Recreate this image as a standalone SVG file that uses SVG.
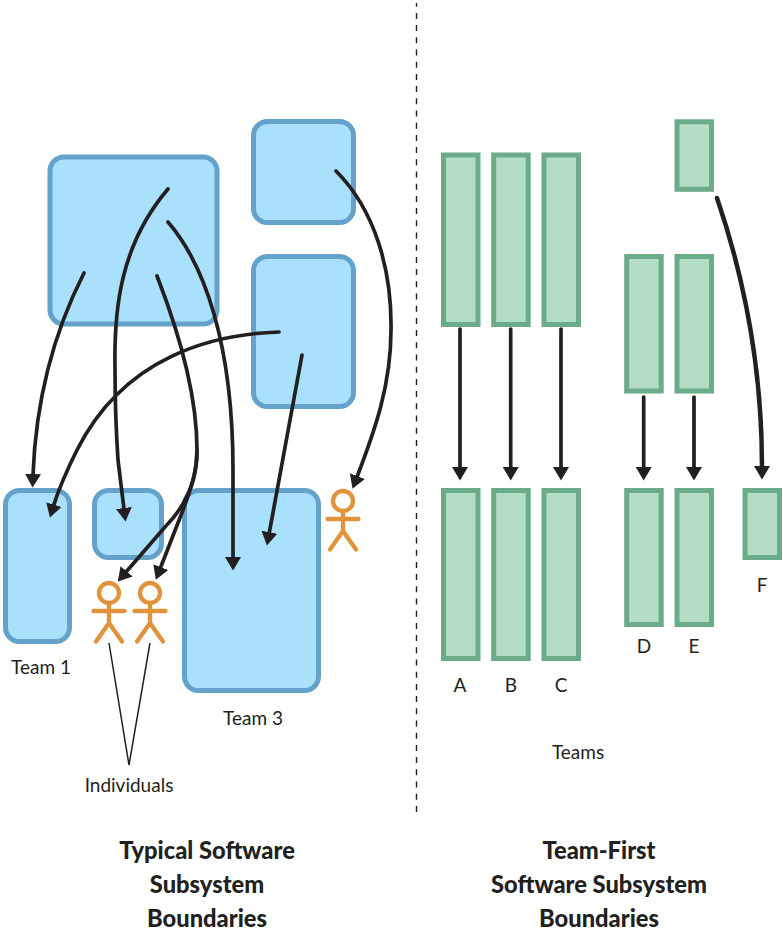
<svg xmlns="http://www.w3.org/2000/svg" width="783" height="934" viewBox="0 0 783 934">
<style>
.b{fill:#a9e0fb;stroke:#65a2cb;stroke-width:5}
.g{fill:#b3dec3;stroke:#6bab88;stroke-width:5}
.c{fill:none;stroke:#231f20;stroke-width:3.700;stroke-linecap:round}
.t{fill:none;stroke:#231f20;stroke-width:1.5}
.p{fill:none;stroke:#e0933b;stroke-width:4.300;stroke-linecap:round;stroke-linejoin:round}
text{font-family:"Lato","Liberation Sans",sans-serif;fill:#231f20;text-anchor:middle}
.l{font-size:19px}
.h{font-size:23.700px;font-weight:900}
</style>
<defs>
<marker id="a" markerUnits="userSpaceOnUse" markerWidth="18" markerHeight="18" refX="1" refY="8.500" orient="auto"><path d="M0,0.500L13.500,8.500L0,16.500Z" fill="#231f20"/></marker>
<g id="person" class="p"><circle cx="0" cy="0" r="10"/><path d="M-15.500,18H15.500M0,10V30M-13,48.500L0,30L13,48.500"/></g>
</defs>
<path d="M416.500,3V812" fill="none" stroke="#231f20" stroke-width="1.400" stroke-dasharray="6 6.200" stroke-dashoffset="2.300"/>
<g id="nodes-left">
<rect id="sys1" class="b" x="50" y="157" width="167" height="167" rx="14"/>
<rect id="sys2" class="b" x="253.500" y="121.500" width="100" height="101" rx="14"/>
<rect id="sys3" class="b" x="253.500" y="256.500" width="100" height="150" rx="14"/>
<rect id="team1" class="b" x="5.500" y="490.500" width="64" height="151" rx="14"/>
<rect id="team2" class="b" x="94.500" y="490.500" width="67" height="67" rx="14"/>
<rect id="team3" class="b" x="184.500" y="490.500" width="134" height="200" rx="14"/>
<use id="person1" href="#person" x="343" y="501"/>
<use id="person2" href="#person" x="109" y="593"/>
<use id="person3" href="#person" x="150" y="593"/>
</g>
<g id="nodes-right">
<rect id="a1" class="g" x="443.500" y="155" width="34.500" height="169.500"/>
<rect id="b1" class="g" x="493.700" y="155" width="34.500" height="169.500"/>
<rect id="c1" class="g" x="544" y="155" width="34.500" height="169.500"/>
<rect id="d1" class="g" x="626.700" y="256.500" width="34.500" height="134.500"/>
<rect id="e1" class="g" x="677" y="256.500" width="34.500" height="134.500"/>
<rect id="f1" class="g" x="677" y="121.800" width="34.500" height="67.500"/>
<rect id="a2" class="g" x="443.500" y="490.500" width="34.500" height="168"/>
<rect id="b2" class="g" x="493.700" y="490.500" width="34.500" height="168"/>
<rect id="c2" class="g" x="544" y="490.500" width="34.500" height="168"/>
<rect id="d2" class="g" x="626.700" y="490.500" width="34.500" height="134"/>
<rect id="e2" class="g" x="677" y="490.500" width="34.500" height="134"/>
<rect id="f2" class="g" x="745" y="490.500" width="34.500" height="67"/>
</g>
<g id="connectors">
<path class="c" marker-end="url(#a)" d="M84,273C55,330 36,395 33,475"/>
<path class="c" marker-end="url(#a)" d="M168,189C120,245 114,310 115,367C115,400 116,430 118,460L124,509"/>
<path class="c" marker-end="url(#a)" d="M157,276C180,335 197,395 197,450C197,480 187,505 165,527L126,572"/>
<path class="c" marker-end="url(#a)" d="M197,450C197,475 190,490 183,510L160.400,568"/>
<path class="c" marker-end="url(#a)" d="M168,222C205,265 233,345 233,470V558"/>
<path class="c" marker-end="url(#a)" d="M279,332C215,334 125,355 77,450C67,470 60,485 53.600,505.600"/>
<path class="c" marker-end="url(#a)" d="M302,355L269.200,533.200"/>
<path class="c" marker-end="url(#a)" d="M336,171C375,210 392,270 391,330C391,385 375,430 357,477"/>
<path class="c" marker-end="url(#a)" d="M460,329V468"/>
<path class="c" marker-end="url(#a)" d="M510.700,329V468"/>
<path class="c" marker-end="url(#a)" d="M561,329V468"/>
<path class="c" marker-end="url(#a)" d="M643.700,397V468"/>
<path class="c" marker-end="url(#a)" d="M694,397V468"/>
<path class="c" style="stroke-width:4.500" marker-end="url(#a)" d="M717,198C745,280 762,370 762,467"/>
<path class="t" d="M109,643L129,765L150,643"/>
</g>
<g id="labels">
<text class="l" x="41" y="674">Team 1</text>
<text class="l" x="253" y="725">Team 3</text>
<text class="l" x="129" y="792">Individuals</text>
<text class="l" x="460" y="692">A</text>
<text class="l" x="511" y="692">B</text>
<text class="l" x="561" y="692">C</text>
<text class="l" x="644" y="653">D</text>
<text class="l" x="694" y="653">E</text>
<text class="l" x="762" y="592">F</text>
<text class="l" x="578" y="759">Teams</text>
<text class="h" x="207" y="859">Typical Software</text>
<text class="h" x="207" y="893">Subsystem</text>
<text class="h" x="207" y="927">Boundaries</text>
<text class="h" x="599" y="859">Team-First</text>
<text class="h" x="599" y="893">Software Subsystem</text>
<text class="h" x="599" y="927">Boundaries</text>
</g>
</svg>
